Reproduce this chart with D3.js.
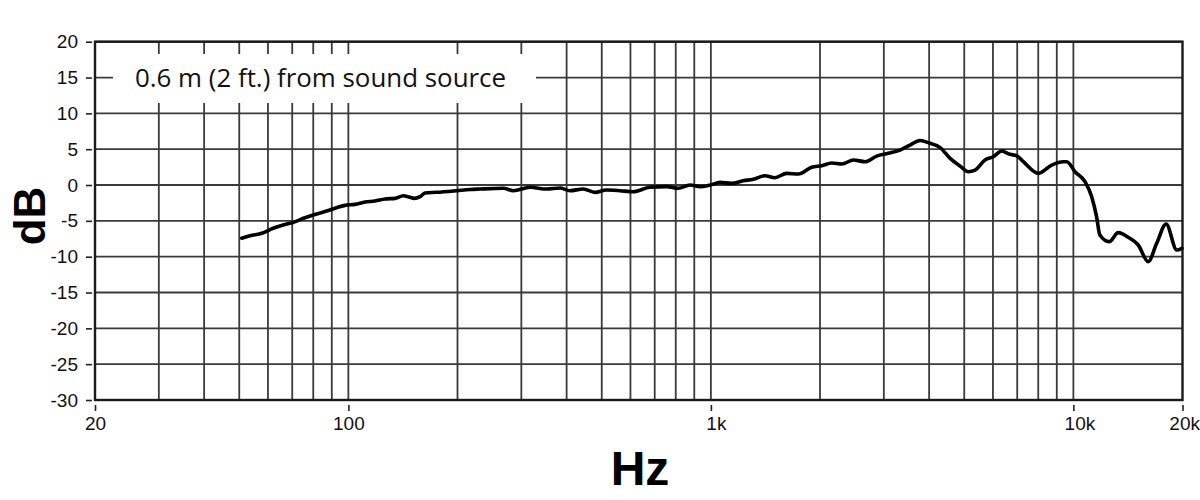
<!DOCTYPE html>
<html><head><meta charset="utf-8">
<script src="https://cdn.jsdelivr.net/npm/d3@7"></script>
<style>html,body{margin:0;padding:0;background:#fff;}svg{display:block;}</style>
</head><body>
<svg id="c" width="1200" height="500"></svg>
<script>
// Frequency response data (Hz, dB)
const freq = [50.8,53.5,57.7,62.0,66.1,70.5,75.9,81.8,87.1,92.8,97.9,104.3,111.2,118.4,126.2,134.5,141.8,146.9,152,157.7,162.7,175.2,198.9,216.6,230.7,267.6,285,317,352.5,383.7,408.3,444.6,478.8,515.4,561,610.6,678.8,755,812.7,875.6,933,995,1060,1141,1228,1309,1410,1502,1619,1742,1897,2023,2155,2296,2474,2664,2867,3086,3325,3541,3776,4021,4283,4571,4868,5132,5354,5705,6014,6340,6685,6973,7277,8006,8713,9381,9594,10104,10766,11233,11588,11833,12557,13300,14170,15096,16085,16976,18026,19283,19916];
const db   = [-7.43,-7.07,-6.74,-6.04,-5.58,-5.21,-4.56,-4.04,-3.63,-3.16,-2.84,-2.7,-2.37,-2.23,-1.95,-1.86,-1.49,-1.67,-1.86,-1.63,-1.12,-1.02,-0.79,-0.62,-0.56,-0.46,-0.79,-0.32,-0.56,-0.42,-0.79,-0.56,-1.02,-0.7,-0.79,-0.93,-0.32,-0.23,-0.46,0,-0.23,0,0.37,0.23,0.6,0.79,1.3,1.02,1.63,1.53,2.47,2.7,3.07,2.93,3.49,3.25,4.04,4.42,4.88,5.58,6.22,5.82,5.26,3.72,2.65,1.86,2.09,3.49,3.95,4.74,4.28,4.09,3.25,1.63,2.79,3.25,3.25,1.86,0.46,-1.63,-4.42,-6.97,-7.9,-6.65,-7.3,-8.37,-10.7,-8.14,-5.44,-9.07,-8.83];

const xTickValues = [20,100,1000,10000,20000];
const xTickLabels = ["20","100","1k","10k","20k"];
const xGridValues = [30,40,50,60,70,80,90,100,200,300,400,500,600,700,800,900,1000,2000,3000,4000,5000,6000,7000,8000,9000,10000];
const yTickValues = [20,15,10,5,0,-5,-10,-15,-20,-25,-30];
const yTickLabels = ["20","15","10","5","0","-5","-10","-15","-20","-25","-30"];
const captionText = "0.6 m (2 ft.) from sound source";
const xTitle = "Hz", yTitle = "dB";

const svg = d3.select("#c");
const x = d3.scaleLog().domain([20,20000]).range([95,1182.5]);
const y = d3.scaleLinear().domain([-30,20]).range([400,41.7]);

const g = svg.append("g");
// horizontal grid
g.selectAll("line.h").data(yTickValues).join("line")
  .attr("x1",x(20)).attr("x2",x(20000))
  .attr("y1",d=>y(d)).attr("y2",d=>y(d))
  .attr("stroke","#3a3a3a").attr("stroke-width",1.8);
// vertical grid
g.selectAll("line.v").data(xGridValues).join("line")
  .attr("x1",d=>x(d)).attr("x2",d=>x(d))
  .attr("y1",y(20)).attr("y2",y(-30))
  .attr("stroke","#3a3a3a").attr("stroke-width",1.8);

// caption box
g.append("rect").attr("x",113).attr("y",54).attr("width",423).attr("height",49).attr("fill","#fff");
g.append("text").attr("x",135).attr("y",87)
  .attr("font-family","'Open Sans', sans-serif").attr("font-size",25)
  .attr("fill","#111").attr("textLength",371).attr("lengthAdjust","spacingAndGlyphs")
  .text(captionText);

// border
g.append("rect").attr("x",x(20)).attr("y",y(20)).attr("width",x(20000)-x(20)).attr("height",y(-30)-y(20))
  .attr("fill","none").attr("stroke","#1a1a1a").attr("stroke-width",2.4);

// y axis
const yAxis = d3.axisLeft(y).tickValues(yTickValues).tickSize(6).tickPadding(8).tickFormat((d,i)=>yTickLabels[i]);
const ya = svg.append("g").attr("transform","translate(92,0)").call(yAxis);
ya.select(".domain").remove();
ya.selectAll(".tick line").attr("stroke","#222").attr("stroke-width",1.6);
ya.selectAll(".tick text").attr("font-family","'Liberation Sans', Arial, sans-serif").attr("font-size",19).attr("fill","#111");

// x axis
const xDx = [0,0,5,6,0];
const xAxis = d3.axisBottom(x).tickValues(xTickValues).tickSize(6).tickPadding(6)
  .tickFormat((d,i)=>xTickLabels[i]);
const xa = svg.append("g").attr("transform","translate(0,405)").call(xAxis);
xa.select(".domain").remove();
xa.selectAll(".tick line").attr("stroke","#222").attr("stroke-width",1.6);
xa.selectAll(".tick text").attr("font-family","'Liberation Sans', Arial, sans-serif").attr("font-size",19).attr("fill","#111")
  .attr("dx",(d,i)=>xDx[i]);
xa.selectAll(".tick text").filter((d,i)=>i===4).attr("text-anchor","end").attr("dx",17);

// curve
const pts = freq.map((f,i)=>[f,db[i]]);
svg.append("path").datum(pts)
  .attr("d",d3.line().x(d=>x(d[0])).y(d=>y(d[1])).curve(d3.curveMonotoneX))
  .attr("fill","none").attr("stroke","#000").attr("stroke-width",3.6).attr("stroke-linejoin","round").attr("stroke-linecap","round");

// titles
svg.append("text").attr("transform","translate(45,216) rotate(-90)").attr("text-anchor","middle")
  .attr("font-family","'Liberation Sans Narrow', 'Liberation Sans', Arial, sans-serif").attr("font-weight","bold").attr("font-size",44)
  .attr("fill","#000").text(yTitle);
svg.append("text").attr("x",640).attr("y",485).attr("text-anchor","middle")
  .attr("font-family","'Liberation Sans Narrow', 'Liberation Sans', Arial, sans-serif").attr("font-weight","bold").attr("font-size",48)
  .attr("fill","#000").text(xTitle);
</script>
</body></html>
